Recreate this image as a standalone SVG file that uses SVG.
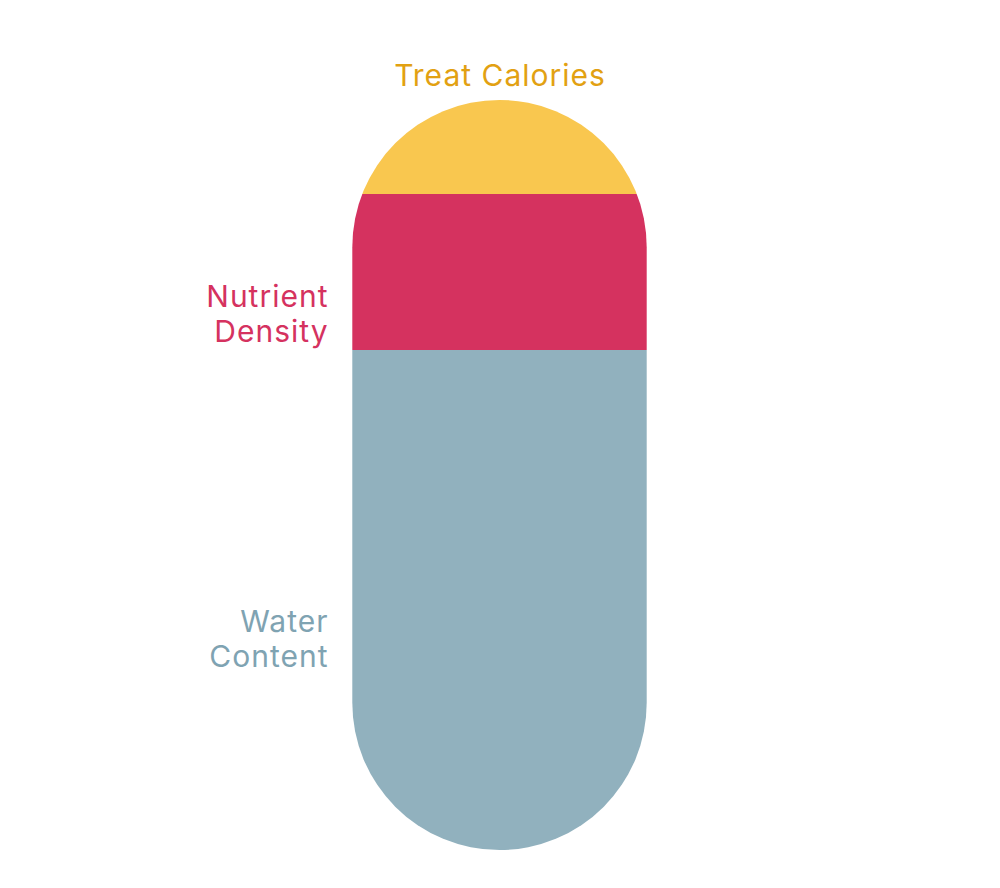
<svg xmlns="http://www.w3.org/2000/svg" width="1000" height="888" viewBox="0 0 1000 888">
<style>
.lbl{font-family:Inter,"Liberation Sans",sans-serif;font-size:30px;letter-spacing:1px}
</style>
<defs>
<clipPath id="cap"><rect x="352.3" y="100" width="294.4" height="750" rx="147.2" ry="147.2"/></clipPath>
</defs>
<rect width="1000" height="888" fill="#ffffff"/>
<g clip-path="url(#cap)">
<g id="treat"><rect x="350" y="98" width="300" height="96" fill="#F9C74F"/></g>
<g id="nutrient"><rect x="350" y="194" width="300" height="156" fill="#D5325F"/></g>
<g id="water"><rect x="350" y="350" width="300" height="502" fill="#91B1BE"/></g>
</g>
<g id="labels">
<text class="lbl" x="500" y="86" text-anchor="middle" fill="#E2A112">Treat Calories</text>
<text class="lbl" x="328.5" y="307" text-anchor="end" fill="#D5325F">Nutrient</text>
<text class="lbl" x="328.5" y="342" text-anchor="end" fill="#D5325F">Density</text>
<text class="lbl" x="328.5" y="632" text-anchor="end" fill="#7FA3B2">Water</text>
<text class="lbl" x="328.5" y="667" text-anchor="end" fill="#7FA3B2">Content</text>
</g>
</svg>
